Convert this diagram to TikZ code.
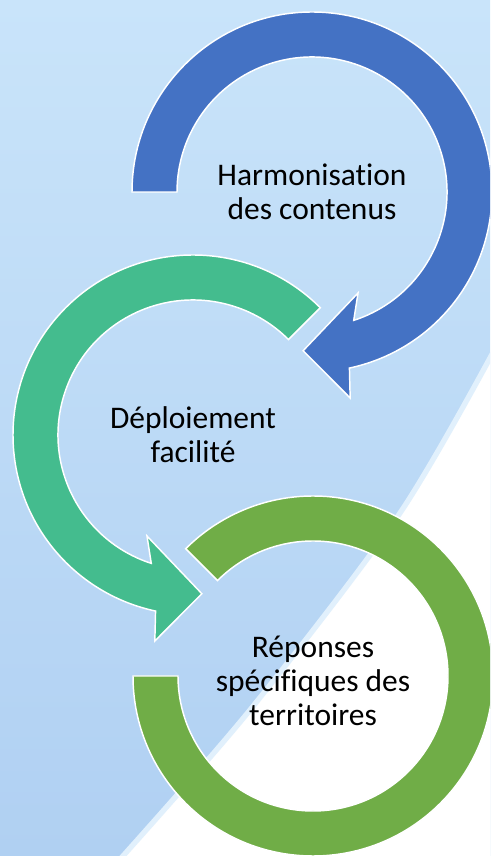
\documentclass[tikz,border=0pt]{standalone}
\usepackage{fontspec}
\setmainfont{Carlito}[Ligatures=NoCommon]
\usepackage{tikz}
\tikzset{>=latex}
\usepackage{xcolor}
\definecolor{bgtop}{RGB}{201,228,250}
\definecolor{bgbot}{RGB}{176,208,242}
\colorlet{edgecol}{bgtop!55!white}
\definecolor{acol}{RGB}{68,114,196}
\definecolor{bcol}{RGB}{68,188,142}
\definecolor{ccol}{RGB}{112,173,71}
\tikzstyle{band}=[draw=white,line width=1.1pt,line join=miter]
\tikzstyle{lbl}=[font=\fontsize{23.6}{25.5}\selectfont,align=center,text=black]

\begin{document}
\begin{tikzpicture}[x=0.75pt,y=0.75pt]
  \def\Ro{180}
  \def\Ri{135}
  \coordinate (C1) at (312,664);
  \coordinate (C2) at (193,421);
  \coordinate (C3) at (313,180);
  \useasboundingbox (0,0) rectangle (490,856);
  \clip (0,0) rectangle (490,856);

  % background
  \shade[top color=bgtop,bottom color=bgbot] (0,0) rectangle (490,856);
  \fill[white] plot[smooth,tension=0.5] coordinates {(497,511) (400,343) (250,146) (114,-10)}
               -- (497,-10) -- cycle;
  \draw[edgecol,line width=4pt] plot[smooth,tension=0.5] coordinates {(497,511) (400,343) (250,146) (114,-10)};

  % ring 3
  \begin{scope}[shift={(C3)}]
    \fill[ccol,band] (180:\Ro) arc[start angle=180, end angle=495, radius=\Ro]
                     -- (135:\Ri) arc[start angle=495, end angle=180, radius=\Ri] -- cycle;
  \end{scope}

  % ring 2
  \begin{scope}[shift={(C2)}]
    \fill[bcol,band] (45:\Ro) arc[start angle=45, end angle=258, radius=\Ro]
                     -- (259.5:209.5) -- (273.2:159) -- (245.5:111)
                     -- (252:\Ri) arc[start angle=252, end angle=45, radius=\Ri] -- cycle;
  \end{scope}

  % ring 1
  \begin{scope}[shift={(C1)}]
    \fill[acol,band] (180:\Ro) arc[start angle=180, end angle=-78, radius=\Ro]
                     -- (-79.5:209.5) -- (-93.2:159) -- (-65.5:111)
                     -- (-72:\Ri) arc[start angle=-72, end angle=180, radius=\Ri] -- cycle;
  \end{scope}

  \node[lbl] (T1) at (C1) {Harmonisation\\des contenus};
  \node[lbl] (T2) at (C2) {Déploiement\\facilité};
  \node[lbl] (T3) at ([yshift=-4]C3) {Réponses\\spécifiques des\\territoires};
\end{tikzpicture}
\end{document}
